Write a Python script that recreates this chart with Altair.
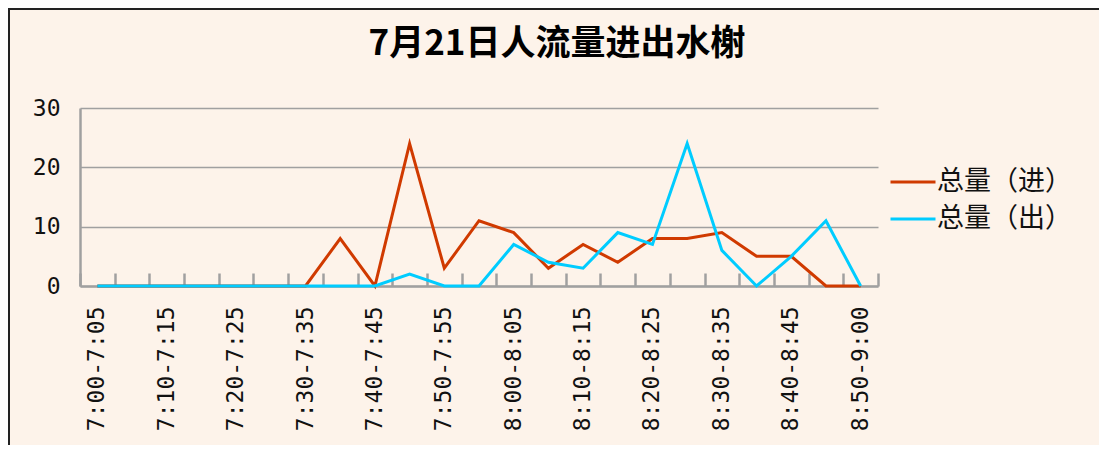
import altair as alt
import pandas as pd

# ---- data ----
time_slots = [
    "7:00-7:05", "7:05-7:10", "7:10-7:15", "7:15-7:20", "7:20-7:25",
    "7:25-7:30", "7:30-7:35", "7:35-7:40", "7:40-7:45", "7:45-7:50",
    "7:50-7:55", "7:55-8:00", "8:00-8:05", "8:05-8:10", "8:10-8:15",
    "8:15-8:20", "8:20-8:25", "8:25-8:30", "8:30-8:35", "8:35-8:40",
    "8:40-8:45", "8:45-8:50", "8:50-9:00",
]
total_in = [0, 0, 0, 0, 0, 0, 0, 8, 0, 24, 3, 11, 9, 3, 7, 4, 8, 8, 9, 5, 5, 0, 0]
total_out = [0, 0, 0, 0, 0, 0, 0, 0, 0, 2, 0, 0, 7, 4, 3, 9, 7, 24, 6, 0, 5, 11, 0]
series_names = ["总量（进）", "总量（出）"]
series_colors = ["#D03A00", "#00CCFF"]
y_ticks = [0, 10, 20, 30]
title_text = "7月21日人流量进出水榭"

rows = []
for s, vals in zip(series_names, [total_in, total_out]):
    for t, v in zip(time_slots, vals):
        rows.append({"slot": t, "value": v, "series": s})
df = pd.DataFrame(rows)

W, H = 798, 178
BG = "#FDF3EA"
GRID = "#A0A0A0"
MONO = "DejaVu Sans Mono"
CJK = "Noto Sans CJK SC"

x_scale = alt.Scale(type="band", domain=time_slots, paddingInner=0, paddingOuter=0)
y_scale = alt.Scale(domain=[0, 30], nice=False)
color_scale = alt.Scale(domain=series_names, range=series_colors)

# every second time slot is labelled
every_other = "indexof(domain('x'), datum.value) % 2 === 0 ? datum.label : ''"

x_main = alt.X(
    "slot:N", scale=x_scale, sort=time_slots, bandPosition=0.5, title=None,
    axis=alt.Axis(
        labelExpr=every_other, labelAngle=270, labelAlign="right", labelBaseline="middle",
        labelFont=MONO, labelFontSize=23, labelColor="#111", labelPadding=20,
        labelOverlap=False, labelBound=False, labelFlush=False,
        ticks=False, domainColor=GRID, domainWidth=2.5, grid=False,
    ),
)
x_plain = alt.X("slot:N", scale=x_scale, sort=time_slots, bandPosition=0.5, axis=None)
y_main = alt.Y(
    "value:Q", scale=y_scale, title=None,
    axis=alt.Axis(
        values=y_ticks, labelFont=MONO, labelFontSize=23, labelColor="#111",
        labelPadding=20, ticks=False, domainColor=GRID, domainWidth=2.5,
        grid=True, gridColor=GRID, gridWidth=1.5,
    ),
)
color_enc = alt.Color(
    "series:N", scale=color_scale, title=None,
    legend=alt.Legend(
        orient="none", legendX=809, legendY=50, symbolType="stroke",
        symbolSize=2025, symbolStrokeWidth=3, labelFont=CJK, labelFontSize=27,
        labelColor="#111", labelOffset=0, rowPadding=-15, padding=0,
    ),
)

line_in = (
    alt.Chart(df).transform_filter(alt.datum.series == series_names[0])
    .mark_line(strokeWidth=3)
    .encode(x=x_main, y=y_main, color=color_enc)
)
line_out = (
    alt.Chart(df).transform_filter(alt.datum.series == series_names[1])
    .mark_line(strokeWidth=3)
    .encode(x=x_plain, y=y_main, color=color_enc)
)

# inward tick marks at category boundaries (a top axis moved down onto the baseline)
tick_axis = (
    alt.Chart(df).transform_filter(alt.datum.series == series_names[0])
    .mark_line(opacity=0)
    .encode(
        x=alt.X(
            "slot:N", scale=x_scale, sort=time_slots, bandPosition=0.5, title=None,
            axis=alt.Axis(
                orient="top", offset=-H, labels=False, domain=False, grid=False,
                tickBand="extent", tickColor=GRID, tickWidth=2.5, tickSize=13,
            ),
        ),
        y=alt.Y("value:Q", scale=y_scale),
    )
)

# outer frame of the figure
frame_left = alt.Chart(df.head(1)).mark_rule(color="#222", strokeWidth=2).encode(
    x=alt.value(-71), y=alt.value(-100), y2=alt.value(H + 160)
)
frame_top = alt.Chart(df.head(1)).mark_rule(color="#222", strokeWidth=2).encode(
    x=alt.value(-71), x2=alt.value(W + 240), y=alt.value(-99)
)

chart = (
    alt.layer(tick_axis, line_in, line_out, frame_left, frame_top)
    .resolve_axis(x="independent")
    .properties(
        width=W, height=H,
        autosize=alt.AutoSizeParams(type="none"),
        padding={"left": 72, "top": 100, "right": 221, "bottom": 159},
        background=BG,
        title=alt.TitleParams(
            title_text, font=CJK, fontSize=35, fontWeight="bold", color="#000",
            anchor="middle", frame="group", dx=78, offset=-90, baseline="bottom",
        ),
    )
    .configure_view(stroke=None)
)

chart.save("out.html", embed_options={"renderer": "svg", "actions": False})
